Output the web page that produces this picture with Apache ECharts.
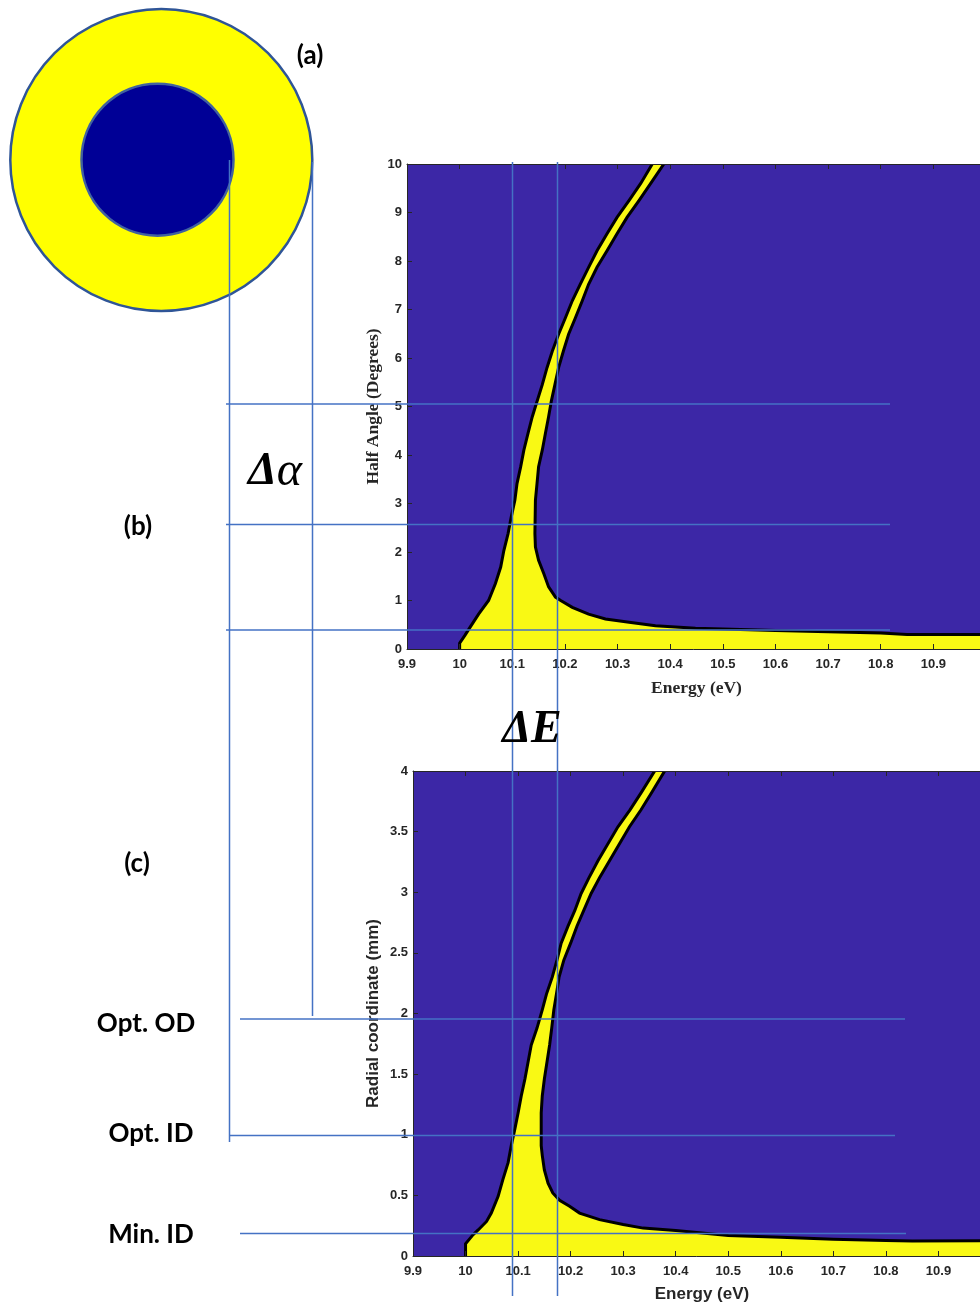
<!DOCTYPE html>
<html><head><meta charset="utf-8">
<script src="https://cdn.jsdelivr.net/npm/echarts@6/dist/echarts.min.js"></script>
<style>html,body{margin:0;padding:0;background:#fff}#c{width:980px;height:1306px}</style>
</head><body><div id="c"></div>
<script>
// ---- data ----
const energyMin = 9.9, energyMax = 11, energyStep = 0.1;
const angleMax = 10, angleStep = 1;
const radiusMax = 4, radiusStep = 0.5;

// (b) transmission region boundary, [energy eV, half angle deg]
const bLeftEdge = [[10.0,0],[10.0,0.12],[10.01,0.28],[10.02,0.45],[10.036,0.72],[10.055,1.0],[10.068,1.35],[10.078,1.69],[10.084,2.03],[10.092,2.38],[10.098,2.72],[10.105,3.07],[10.109,3.41],[10.116,3.76],[10.122,4.1],[10.13,4.45],[10.138,4.79],[10.144,5.0],[10.157,5.45],[10.166,5.8],[10.176,6.14],[10.188,6.49],[10.201,6.83],[10.214,7.18],[10.229,7.52],[10.245,7.87],[10.261,8.21],[10.28,8.56],[10.299,8.9],[10.322,9.25],[10.344,9.6],[10.366,10]];
const bRightEdge = [[10.388,10],[10.363,9.6],[10.341,9.25],[10.318,8.9],[10.299,8.56],[10.28,8.21],[10.261,7.87],[10.245,7.52],[10.233,7.18],[10.22,6.83],[10.207,6.49],[10.197,6.14],[10.188,5.8],[10.181,5.45],[10.174,5.1],[10.169,4.79],[10.163,4.45],[10.157,4.1],[10.15,3.76],[10.147,3.41],[10.144,3.07],[10.143,2.38],[10.144,2.1],[10.15,1.83],[10.16,1.55],[10.169,1.28],[10.182,1.07],[10.192,1.0],[10.214,0.86],[10.245,0.72],[10.277,0.62],[10.322,0.55],[10.372,0.48],[10.448,0.43],[10.5,0.41],[10.6,0.38],[10.7,0.358],[10.8,0.33],[10.85,0.30],[11,0.30]];

// (c) transmission region boundary, [energy eV, radial coordinate mm]
const cLeftEdge = [[10.0,0],[10.0,0.1],[10.014,0.174],[10.024,0.215],[10.04,0.285],[10.049,0.354],[10.062,0.492],[10.071,0.63],[10.081,0.77],[10.087,0.91],[10.094,1.05],[10.1,1.18],[10.106,1.32],[10.113,1.46],[10.119,1.6],[10.125,1.74],[10.136,1.88],[10.146,2.03],[10.154,2.16],[10.165,2.3],[10.174,2.44],[10.182,2.58],[10.195,2.72],[10.208,2.85],[10.22,2.99],[10.235,3.12],[10.252,3.26],[10.271,3.4],[10.29,3.54],[10.313,3.68],[10.334,3.82],[10.36,4.0]];
const cRightEdge = [[10.379,4.0],[10.354,3.82],[10.334,3.68],[10.312,3.54],[10.293,3.4],[10.274,3.26],[10.255,3.12],[10.239,2.99],[10.225,2.85],[10.212,2.72],[10.2,2.58],[10.187,2.44],[10.178,2.3],[10.173,2.16],[10.168,2.03],[10.164,1.88],[10.16,1.74],[10.155,1.6],[10.15,1.46],[10.146,1.32],[10.144,1.18],[10.144,0.91],[10.146,0.83],[10.15,0.71],[10.157,0.6],[10.166,0.52],[10.179,0.46],[10.198,0.41],[10.217,0.354],[10.255,0.3],[10.3,0.26],[10.338,0.23],[10.4,0.21],[10.5,0.17],[10.6,0.155],[10.7,0.138],[10.8,0.127],[10.85,0.124],[11,0.125]];

// ---- styles ----
const BG = '#3c27a6', YEL = '#f9f914', AX = '#262626', ANN = '#4472c4';

const chart = echarts.init(document.getElementById('c'), null, {renderer:'canvas'});

const fmt = v => String(+(+v).toFixed(2));

function xAxes(gi, nameFont) {
  const common = {gridIndex:gi, type:'value', min:energyMin, max:energyMax, interval:energyStep, z:10,
    axisLine:{show:true, onZero:false, lineStyle:{color:AX, width:1}},
    axisTick:{show:true, inside:true, length:5, lineStyle:{color:AX, width:1}},
    splitLine:{show:false}};
  return [
    Object.assign({}, common, {position:'bottom',
      axisLabel:{color:AX, fontWeight:'bold', fontSize:13, fontFamily:'Liberation Sans', margin:9, formatter:fmt, showMaxLabel:false},
      name:'Energy (eV)', nameLocation:'middle', nameGap:30,
      nameTextStyle:Object.assign({color:AX, fontWeight:'bold'}, nameFont)}),
    Object.assign({}, common, {position:'top', axisLabel:{show:false}})
  ];
}
function yAxis(gi, max, step, name, nameFont, gap) {
  return {gridIndex:gi, type:'value', min:0, max:max, interval:step, z:10, position:'left',
    axisLine:{show:true, onZero:false, lineStyle:{color:AX, width:1}},
    axisTick:{show:true, inside:true, length:5, lineStyle:{color:AX, width:1}},
    axisLabel:{color:AX, fontWeight:'bold', fontSize:13, fontFamily:'Liberation Sans', margin:5, formatter:fmt},
    splitLine:{show:false},
    name:name, nameLocation:'middle', nameGap:gap, nameMoveOverlap:false,
    nameTextStyle:Object.assign({color:AX, fontWeight:'bold'}, nameFont)};
}

function band(xi, yi, left, right) {
  return {type:'custom', xAxisIndex:xi, yAxisIndex:yi, clip:true, z:3, silent:true,
    data:[[left[0][0], left[0][1]]], encode:{x:0, y:1},
    renderItem:(params, api) => {
      const L = left.map(p => api.coord(p));
      const R = right.map(p => api.coord(p));
      const end = right[right.length-1];
      const poly = L.concat(R, [api.coord([end[0], 0])]);
      return {type:'group', children:[
        {type:'polygon', shape:{points:poly}, style:{fill:YEL, stroke:null}},
        {type:'polyline', shape:{points:L}, style:{fill:null, stroke:'#000', lineWidth:3}},
        {type:'polyline', shape:{points:R}, style:{fill:null, stroke:'#000', lineWidth:3}}
      ]};
    }};
}

function line(x1,y1,x2,y2){return {type:'line', z:100, shape:{x1,y1,x2,y2}, style:{stroke:ANN, lineWidth:1.5}};}
function txt(s, x, y, font, extra){return {type:'text', z:100, x, y, style:Object.assign({text:s, font, fill:'#000', align:'center', verticalAlign:'middle'}, extra||{})};}

const labelFont = 'bold 26px Lato';

chart.setOption({
  animation:false,
  grid:[
    {left:407, top:164, width:579, height:485, show:true, backgroundColor:BG, borderWidth:0, outerBoundsMode:'none', containLabel:false},
    {left:413, top:771, width:578, height:485, show:true, backgroundColor:BG, borderWidth:0, outerBoundsMode:'none', containLabel:false}
  ],
  xAxis: xAxes(0, {fontFamily:'Liberation Serif', fontSize:17.5}).concat(xAxes(1, {fontFamily:'Liberation Sans', fontSize:17})),
  yAxis: [
    yAxis(0, angleMax, angleStep, 'Half Angle (Degrees)', {fontFamily:'Liberation Serif', fontSize:17.5}, 25),
    yAxis(1, radiusMax, radiusStep, 'Radial coordinate (mm)', {fontFamily:'Liberation Sans', fontSize:17}, 31)
  ],
  series:[ band(0, 0, bLeftEdge, bRightEdge), band(2, 1, cLeftEdge, cRightEdge) ],
  graphic:[
    {type:'circle', z:90, shape:{cx:161.3, cy:160, r:151}, style:{fill:'#ffff00', stroke:'#2f5597', lineWidth:2.5}},
    {type:'circle', z:91, shape:{cx:157.5, cy:159.7, r:76}, style:{fill:'#000096', stroke:'#41629f', lineWidth:2.5}},
    line(229.5,160,229.5,1142),
    line(312.5,162,312.5,1016),
    line(226,404,890,404),
    line(226,524.5,890,524.5),
    line(226,630,890,630),
    line(240,1019,905,1019),
    line(230,1135.5,895,1135.5),
    line(240,1233.5,906,1233.5),
    line(512.5,162,512.5,1296),
    line(557.5,162,557.5,1296),
    txt('(a)', 310, 56, labelFont),
    txt('(b)', 138, 527, labelFont),
    txt('(c)', 137, 864, labelFont),
    txt('Opt. OD', 146, 1024, labelFont),
    txt('Opt. ID', 151, 1134, labelFont),
    txt('Min. ID', 151, 1235, labelFont),
    txt('{d|Δ}{a|α}', 275, 472, 'italic 46px "Liberation Serif"', {rich:{d:{font:'italic bold 46px "Liberation Serif"'}, a:{font:'italic 48px "Liberation Serif"'}}}),
    txt('ΔE', 532, 730, 'italic bold 46px "Liberation Serif"')
  ]
});
</script></body></html>
